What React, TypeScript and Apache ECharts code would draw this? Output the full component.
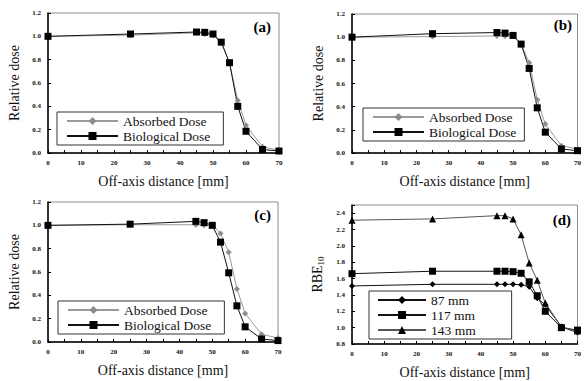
import React, { useEffect, useRef } from "react";
import * as echarts from "echarts";

const distances = [0, 25, 45, 47.5, 50, 52.5, 55, 57.5, 60, 65, 70];

const absorbedA = [1.0, 1.01, 1.03, 1.02, 1.01, 0.95, 0.77, 0.45, 0.237, 0.054, 0.023];
const biologicalA = [1.0, 1.02, 1.037, 1.034, 1.02, 0.95, 0.774, 0.4, 0.186, 0.03, 0.017];

const absorbedB = [1.0, 1.005, 1.01, 1.01, 1.015, 0.94, 0.78, 0.46, 0.25, 0.063, 0.035];
const biologicalB = [1.0, 1.03, 1.04, 1.035, 1.015, 0.94, 0.73, 0.39, 0.18, 0.035, 0.02];

const absorbedC = [1.0, 1.005, 1.005, 1.0, 1.005, 0.93, 0.77, 0.455, 0.245, 0.066, 0.034];
const biologicalC = [1.0, 1.01, 1.034, 1.023, 1.0, 0.856, 0.593, 0.31, 0.13, 0.026, 0.012];

const rbe87 = [1.51, 1.53, 1.53, 1.53, 1.53, 1.525, 1.5, 1.36, 1.28, 1.01, 0.94];
const rbe117 = [1.66, 1.69, 1.69, 1.69, 1.685, 1.665, 1.56, 1.39, 1.2, 1.0, 0.97];
const rbe143 = [2.314, 2.33, 2.37, 2.37, 2.33, 2.135, 1.79, 1.58, 1.3, 1.01, 0.96];

const doseTicks = { min: 0, max: 1.2, interval: 0.2 };
const rbeTicks = { min: 0.8, max: 2.5, interval: 0.2, lastLabel: 2.4 };
const xTicks = { min: 0, max: 70, interval: 10 };

const panelLabels = ["(a)", "(b)", "(c)", "(d)"];
const xTitle = "Off-axis distance [mm]";
const doseTitle = "Relative dose";

const FONT = "'Liberation Serif', 'Times New Roman', serif";

const pairs = (ys: number[]) => distances.map((x, i) => [x, ys[i]]);

export default function App() {
  const ref = useRef<HTMLDivElement>(null);
  useEffect(() => {
    if (!ref.current) return;
    const chart = echarts.init(ref.current, null, { renderer: "svg" });

    const grids = [
      { left: 48, top: 13, width: 231, height: 140 },
      { left: 352, top: 14, width: 230, height: 139 },
      { left: 48, top: 202, width: 230, height: 140 },
      { left: 352, top: 205, width: 230, height: 139 },
    ].map((g) => ({ ...g, show: true, borderColor: "#8c8c8c", borderWidth: 1, backgroundColor: "transparent" }));

    const xAxis = grids.map((_, i) => ({
      type: "value",
      gridIndex: i,
      min: xTicks.min,
      max: xTicks.max,
      interval: xTicks.interval,
      name: xTitle,
      nameLocation: "middle",
      nameGap: 21,
      nameTextStyle: { fontFamily: FONT, fontSize: 14, color: "#111" },
      axisLine: { show: true, lineStyle: { color: "#000", width: 1.5 } },
      axisTick: { show: true, inside: true, length: 3, lineStyle: { color: "#000" } },
      minorTick: { show: true, splitNumber: 2, length: 3, lineStyle: { color: "#000" } },
      splitLine: { show: false },
      axisLabel: {
        fontFamily: FONT,
        fontSize: 7,
        fontWeight: "bold",
        color: "#111",
        margin: 6,
        formatter: (v: number) => String(Math.round(v)),
      },
    }));

    const yAxis = grids.map((_, i) => {
      const t = i === 3 ? rbeTicks : doseTicks;
      return {
        type: "value",
        gridIndex: i,
        min: t.min,
        max: t.max,
        interval: t.interval,
        name: i === 3 ? "RBE{sub|10}" : doseTitle,
        nameLocation: "middle",
        nameGap: i === 3 ? 27 : 27,
        nameTextStyle: {
          fontFamily: FONT,
          fontSize: 14,
          color: "#111",
          rich: { sub: { fontFamily: FONT, fontSize: 9, color: "#111", verticalAlign: "bottom", padding: [6, 0, 0, 0] } },
        },
        axisLine: { show: true, lineStyle: { color: "#000", width: 1.5 } },
        axisTick: { show: true, inside: true, length: 3, lineStyle: { color: "#000" } },
        splitLine: { show: false },
        axisLabel: {
          fontFamily: FONT,
          fontSize: 7,
          fontWeight: "bold",
          color: "#111",
          margin: 7,
          formatter: (v: number) => (i === 3 && v > rbeTicks.lastLabel + 0.05 ? "" : v.toFixed(1)),
        },
      };
    });

    const absStyle = (gi: number, name: string, ys: number[]) => ({
      type: "line",
      name,
      xAxisIndex: gi,
      yAxisIndex: gi,
      data: pairs(ys),
      symbol: "diamond",
      symbolSize: 6,
      lineStyle: { color: "#9a9a9a", width: 1 },
      itemStyle: { color: "#8c8c8c" },
    });
    const bioStyle = (gi: number, name: string, ys: number[]) => ({
      type: "line",
      name,
      xAxisIndex: gi,
      yAxisIndex: gi,
      data: pairs(ys),
      symbol: "rect",
      symbolSize: 7,
      lineStyle: { color: "#111", width: 1 },
      itemStyle: { color: "#000" },
    });

    const series: any[] = [
      absStyle(0, "Absorbed Dose", absorbedA),
      bioStyle(0, "Biological Dose", biologicalA),
      absStyle(1, "Absorbed Dose", absorbedB),
      bioStyle(1, "Biological Dose", biologicalB),
      absStyle(2, "Absorbed Dose", absorbedC),
      bioStyle(2, "Biological Dose", biologicalC),
      {
        type: "line", name: "87 mm", xAxisIndex: 3, yAxisIndex: 3, data: pairs(rbe87),
        symbol: "diamond", symbolSize: 6, lineStyle: { color: "#111", width: 1 }, itemStyle: { color: "#000" },
      },
      {
        type: "line", name: "117 mm", xAxisIndex: 3, yAxisIndex: 3, data: pairs(rbe117),
        symbol: "rect", symbolSize: 7, lineStyle: { color: "#111", width: 1 }, itemStyle: { color: "#000" },
      },
      {
        type: "line", name: "143 mm", xAxisIndex: 3, yAxisIndex: 3, data: pairs(rbe143),
        symbol: "triangle", symbolSize: 7, lineStyle: { color: "#555", width: 1 }, itemStyle: { color: "#000" },
      },
    ];

    const legendBase = {
      orient: "vertical",
      itemWidth: 51,
      itemHeight: 10,
      itemGap: 1,
      borderColor: "#333",
      borderWidth: 1,
      backgroundColor: "#fff",
      selectedMode: false,
      textStyle: { fontFamily: FONT, fontSize: 13.5, color: "#111", lineHeight: 13 },
    };
    const legend = [
      { ...legendBase, left: 57, top: 112, padding: [2, 13, 2, 9], data: ["Absorbed Dose", "Biological Dose"] },
      { ...legendBase, left: 363, top: 108, padding: [2, 8, 2, 9], data: ["Absorbed Dose", "Biological Dose"] },
      { ...legendBase, left: 58, top: 301, padding: [2, 13, 2, 9], data: ["Absorbed Dose", "Biological Dose"] },
      { ...legendBase, left: 369, top: 291, itemWidth: 48, padding: [2, 36, 2, 8], data: ["87 mm", "117 mm", "143 mm"] },
    ];

    const labelPos = [
      [271, 27],
      [572, 25],
      [271, 215],
      [571, 220],
    ];
    const graphic = panelLabels.map((t, i) => ({
      type: "text",
      x: labelPos[i][0],
      y: labelPos[i][1],
      style: {
        text: t,
        fontFamily: FONT,
        fontSize: 15,
        fontWeight: "bold",
        fill: "#000",
        align: "right",
        verticalAlign: "middle",
      },
    }));

    chart.setOption({
      animation: false,
      backgroundColor: "#fff",
      grid: grids,
      xAxis,
      yAxis,
      series,
      legend,
      graphic,
    });
    return () => chart.dispose();
  }, []);
  return <div ref={ref} style={{ position: "fixed", left: 0, top: 0, width: 584, height: 381 }} />;
}
